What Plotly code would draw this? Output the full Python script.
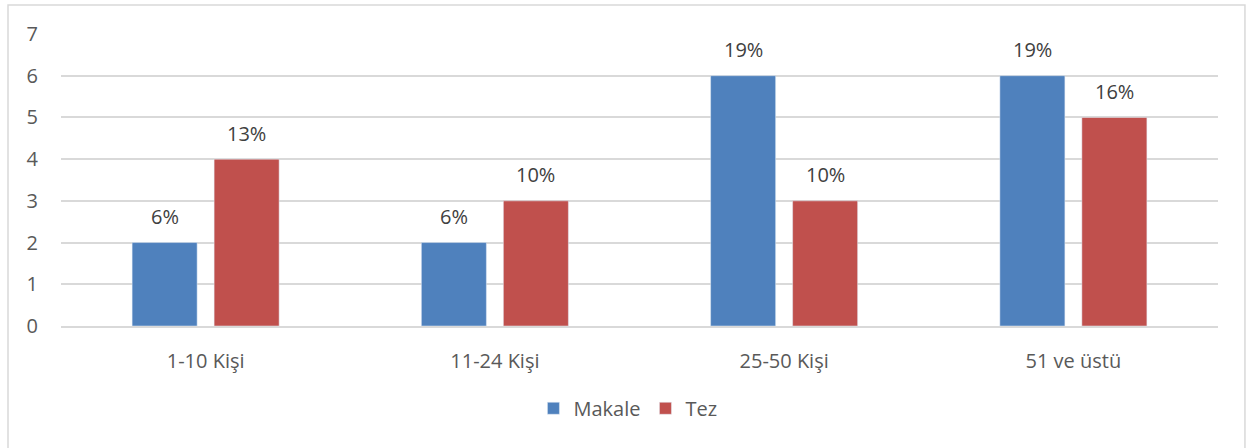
import plotly.graph_objects as go

categories = ["1-10 Kişi", "11-24 Kişi", "25-50 Kişi", "51 ve üstü"]
makale = [2, 2, 6, 6]
tez = [4, 3, 3, 5]
makale_pct = ["6%", "6%", "19%", "19%"]
tez_pct = ["13%", "10%", "10%", "16%"]
y_ticks = [0, 1, 2, 3, 4, 5, 6, 7]

FONT = "Open Sans, Liberation Sans, sans-serif"
GREY = "#595959"
FS = 20

fig = go.Figure()
fig.add_trace(go.Bar(name="Makale", x=categories, y=makale, marker_color="#4F81BD"))
fig.add_trace(go.Bar(name="Tez", x=categories, y=tez, marker_color="#C0504D"))

for i, c in enumerate(categories):
    for val, lab, sh in ((makale[i], makale_pct[i], -41), (tez[i], tez_pct[i], 41)):
        fig.add_annotation(x=c, y=val, text=lab, showarrow=False, xref="x", yref="y",
                           xshift=sh, yshift=26, font=dict(size=FS, color="#404040", family=FONT))

fig.add_shape(type="rect", xref="paper", yref="paper", x0=-0.0458, x1=1.0233, y0=-0.43, y1=1.099,
              line=dict(color="#D9D9D9", width=1.5), layer="below")

fig.update_layout(
    width=1247, height=448,
    margin=dict(l=61, r=29, t=34, b=122),
    paper_bgcolor="white", plot_bgcolor="white",
    barmode="group", bargap=0.433, bargroupgap=0.207,
    font=dict(family=FONT, size=FS, color=GREY),
    showlegend=True,
    legend=dict(orientation="h", x=0.49, xanchor="center", y=-0.215, yanchor="top",
                font=dict(size=FS, color=GREY), itemwidth=30, traceorder="normal"),
    xaxis=dict(showgrid=False, showline=True, linecolor="#D9D9D9", linewidth=1.5,
               ticks="", ticklabelstandoff=16, tickfont=dict(size=FS, color=GREY)),
    yaxis=dict(range=[0, 7], tickvals=y_ticks, showgrid=True, gridcolor="#D9D9D9", gridwidth=1.5,
               zeroline=False, showline=False, ticks="", ticklabelstandoff=22,
               tickfont=dict(size=FS, color=GREY)),
)

fig.write_html("out.html")
